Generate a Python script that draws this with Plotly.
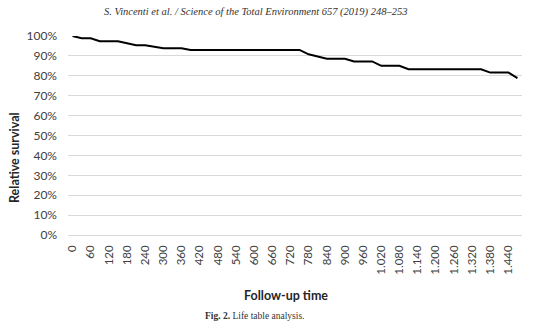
import plotly.graph_objects as go

# Life table: relative survival (%) at 30-day follow-up intervals
follow_up_days = list(range(0, 1500, 30))
relative_survival = [
    100.0, 98.9, 98.9, 97.4, 97.4, 97.4, 96.4, 95.4, 95.4, 94.6,
    93.8, 93.8, 93.8, 93.0, 93.0, 93.0, 93.0, 93.0, 93.0, 93.0,
    93.0, 93.0, 93.0, 93.0, 93.0, 93.0, 90.8, 89.8, 88.6, 88.6,
    88.6, 87.2, 87.2, 87.2, 85.0, 85.0, 85.0, 83.3, 83.3, 83.3,
    83.3, 83.3, 83.3, 83.3, 83.3, 83.3, 81.6, 81.6, 81.6, 78.8,
]

# Every other interval is labelled, with "." as thousands separator
tick_days = list(range(0, 1441, 60))
tick_labels = [f"{d:,}".replace(",", ".") for d in tick_days]
y_ticks = list(range(0, 101, 10))
y_labels = [f"{v}%" for v in y_ticks]

GRID = "#d9d9d9"
TEXT = "#404040"

fig = go.Figure()
fig.add_trace(go.Scatter(
    x=follow_up_days,
    y=relative_survival,
    mode="lines",
    line=dict(color="#000000", width=2),
    showlegend=False,
    hoverinfo="skip",
))

fig.update_layout(
    width=545,
    height=333,
    margin=dict(l=68, r=23, t=36, b=98),
    paper_bgcolor="white",
    plot_bgcolor="white",
    font=dict(family="Lato, Carlito, sans-serif", color=TEXT, size=12),
    xaxis=dict(
        range=[-15, 1485],
        tickmode="array",
        tickvals=tick_days,
        ticktext=tick_labels,
        tickangle=-90,
        showgrid=False,
        zeroline=False,
        showline=False,
        ticks="",
        ticklabelstandoff=7,
        tickfont=dict(size=11.5, color=TEXT),
    ),
    yaxis=dict(
        range=[0, 100],
        tickmode="array",
        tickvals=y_ticks,
        ticktext=y_labels,
        showgrid=True,
        gridcolor=GRID,
        gridwidth=1,
        zeroline=True,
        zerolinecolor=GRID,
        zerolinewidth=1,
        showline=False,
        ticks="",
        ticklabelstandoff=10,
        tickfont=dict(size=12, color=TEXT),
    ),
    annotations=[
        dict(
            text="<i>S. Vincenti et al. / Science of the Total Environment 657 (2019) 248–253</i>",
            xref="paper", yref="paper", x=0.412, y=1.12,
            xanchor="center", yanchor="middle", showarrow=False,
            font=dict(family="Liberation Serif, serif", size=10.5, color="#333333"),
        ),
        dict(
            text="<b>Follow-up time</b>",
            xref="paper", yref="paper", x=0.48, y=-0.3065,
            xanchor="center", yanchor="middle", showarrow=False,
            font=dict(family="Lato, sans-serif", size=12.5, color="#262626"),
        ),
        dict(
            text="<b>Relative survival</b>",
            xref="paper", yref="paper", x=-0.1167, y=0.387,
            xanchor="center", yanchor="middle", showarrow=False, textangle=-90,
            font=dict(family="Lato, sans-serif", size=12.5, color="#262626"),
        ),
        dict(
            text="<b>Fig. 2.</b> Life table analysis.",
            xref="paper", yref="paper", x=0.411, y=-0.407,
            xanchor="center", yanchor="middle", showarrow=False,
            font=dict(family="Liberation Serif, serif", size=9.5, color="#333333"),
        ),
    ],
)

fig.write_html("out.html")
